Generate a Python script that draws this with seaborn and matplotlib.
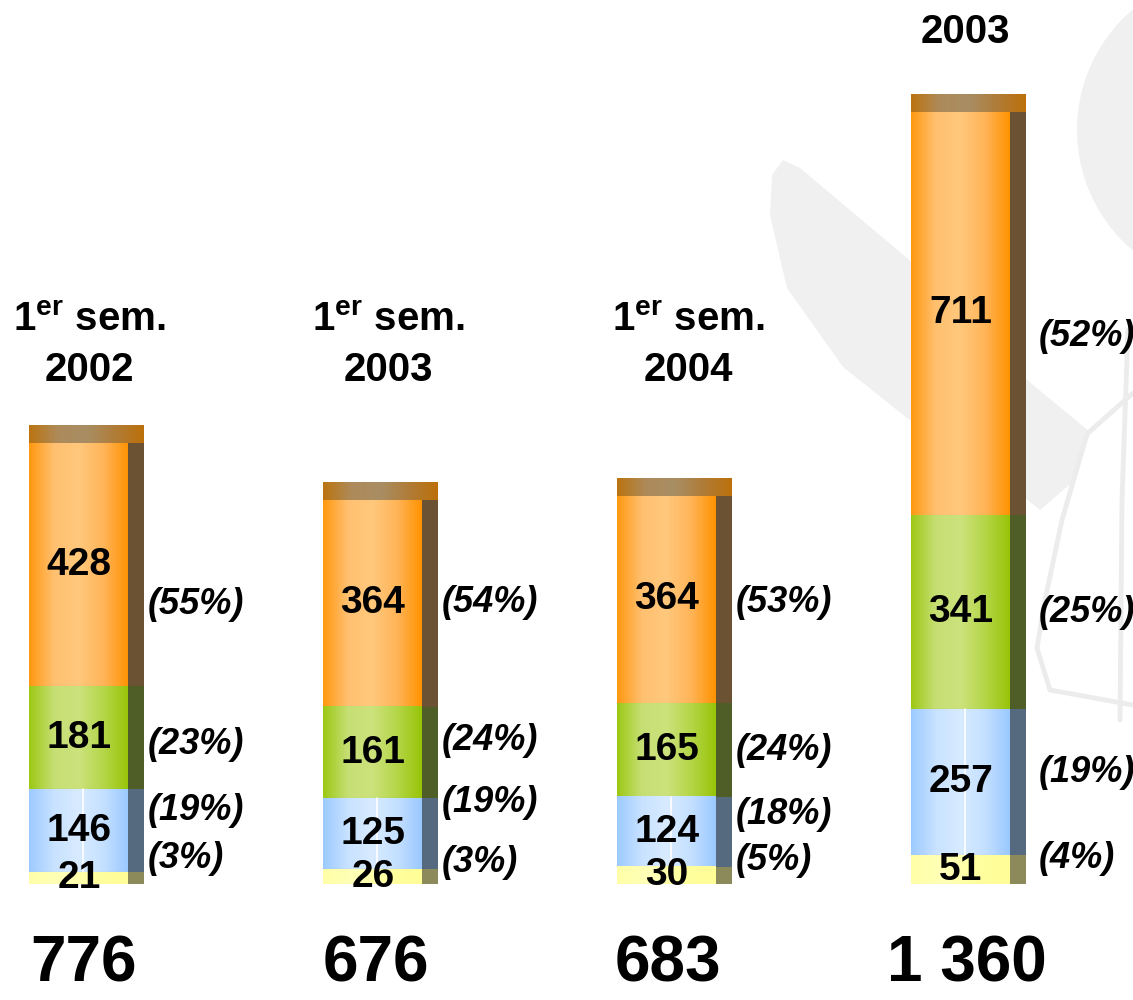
import numpy as np
import pandas as pd
import matplotlib
matplotlib.use("Agg")
import matplotlib.pyplot as plt
import seaborn as sns
from matplotlib.colors import LinearSegmentedColormap
from matplotlib.patches import Rectangle, Circle, Polygon
from matplotlib import font_manager

# ---------------- data ----------------
periods = ["1er sem. 2002", "1er sem. 2003", "1er sem. 2004", "2003"]
header_line1 = [r"1$^{\mathbf{er}}$ sem.", r"1$^{\mathbf{er}}$ sem.", r"1$^{\mathbf{er}}$ sem.", ""]
header_line2 = ["2002", "2003", "2004", "2003"]

seg_yellow = [21, 26, 30, 51]
seg_blue = [146, 125, 124, 257]
seg_green = [181, 161, 165, 341]
seg_orange = [428, 364, 364, 711]

pct_yellow = ["(3%)", "(3%)", "(5%)", "(4%)"]
pct_blue = ["(19%)", "(19%)", "(18%)", "(19%)"]
pct_green = ["(23%)", "(24%)", "(24%)", "(25%)"]
pct_orange = ["(55%)", "(54%)", "(53%)", "(52%)"]

# ---------------- layout (pixels of the 1133x1000 canvas) ----------------
W_PX, H_PX = 1133, 1000
pct_y_px = {  # vertical centres of the percentage labels
    "orange": [605, 603, 603, 336],
    "green": [745, 740, 750, 612],
    "blue": [810, 803, 815, 773],
    "yellow": [858, 862, 860, 858],
}
header_x_px = [89, 388, 688, 965]
header_y1_px = [320, 320, 320, None]
header_y2_px = [370, 370, 370, 32]
total_x_px = [83, 376, 668, 967]
total_y_px = 965

sns.set_theme(style="white")
fams = {f.name for f in font_manager.fontManager.ttflist}
main_font = "Liberation Sans" if "Liberation Sans" in fams else "DejaVu Sans"
narrow_font = "Liberation Sans Narrow" if "Liberation Sans Narrow" in fams else main_font
plt.rcParams["font.family"] = [main_font, "DejaVu Sans"]
plt.rcParams["mathtext.fontset"] = "custom"
plt.rcParams["mathtext.bf"] = f"{main_font}:bold"
plt.rcParams["mathtext.rm"] = f"{main_font}:bold"

fig = plt.figure(figsize=(W_PX / 100, H_PX / 100), dpi=100)
fig.patch.set_facecolor("white")

# background axes in pixel coordinates (faint watermark)
bg = fig.add_axes([0, 0, 1, 1], zorder=0)
bg.set_xlim(0, W_PX)
bg.set_ylim(H_PX, 0)
bg.axis("off")
wm = "#f0f0f0"
bg.add_patch(Polygon([(772, 175), (783, 160), (800, 168), (907, 258), (1027, 380),
                      (1090, 432), (1075, 480), (1040, 510), (990, 470), (907, 418),
                      (843, 367), (787, 288), (770, 215)], closed=True, color=wm, lw=0))
bg.add_patch(Circle((1235, 130), 158, color=wm, lw=0))
bg.plot([1133, 1087, 1062, 1045, 1037, 1050, 1133], [393, 434, 520, 600, 648, 690, 705],
        color="#ececec", lw=3.5, solid_capstyle="round", solid_joinstyle="round")
bg.plot([1128, 1122, 1120], [330, 500, 720], color="#ececec", lw=3.5, solid_capstyle="round")

# main axes
ax = fig.add_axes([0, 0, 1, 1], zorder=1)
ax.patch.set_alpha(0)

px_per_unit = 0.568
y_base_px = 884
ymin = -(H_PX - y_base_px) / px_per_unit
ymax = y_base_px / px_per_unit
spacing_px = 294
face_px = 99
bar_w = face_px / spacing_px
x0_center_px = 78
xmin = -x0_center_px / spacing_px
xmax = (W_PX - x0_center_px) / spacing_px
side_w = 16 / spacing_px
cap_h = 18 / px_per_unit


def px_to_x(px):
    return (px - x0_center_px) / spacing_px


def py_to_y(py):
    return (y_base_px - py) / px_per_unit


layers = [
    ("yellow", seg_yellow, "#ffffa0", ["#ffffa8", "#ffffb8", "#ffffa0", "#fffd96"], "#8c8a5a"),
    ("blue", seg_blue, "#a8d0ff", ["#9ccaff", "#c8e2ff", "#d8ebff", "#c4e0ff", "#9ac8ff"], "#55697f"),
    ("green", seg_green, "#b8d850", ["#9cc814", "#c6df74", "#cce27c", "#b4d648", "#98c408"], "#4f5e27"),
    ("orange", seg_orange, "#ffb050", ["#ff9810", "#ffc070", "#ffc87c", "#ffb458", "#ff9200"], "#6b5233"),
]

vals = np.array([l[1] for l in layers], dtype=float)  # rows: bottom->top
cum_top = np.cumsum(vals, axis=0)
cum_bot = cum_top - vals
totals = cum_top[-1]

df = pd.DataFrame({"period": periods})

# draw top layer first (cumulative heights), lower layers over it
for k in range(len(layers) - 1, -1, -1):
    name, seg, flat, grad, side = layers[k]
    z = 2 + (len(layers) - k) * 0.1
    df["h"] = cum_top[k]
    n0 = len(ax.patches)
    sns.barplot(data=df, x="period", y="h", color=flat, width=bar_w, ax=ax,
                linewidth=0, saturation=1, zorder=z)
    cmap = LinearSegmentedColormap.from_list(name, grad)
    g = cmap(np.linspace(0, 1, 256))[None, :, :]
    for i, p in enumerate(ax.patches[n0:]):
        x0 = p.get_x()
        w = p.get_width()
        ax.imshow(g, extent=[x0, x0 + w, cum_bot[k][i], cum_top[k][i]], aspect="auto",
                  zorder=z + 0.01, interpolation="bilinear")
        if name == "blue":
            ax.plot([x0 + 0.55 * w] * 2, [cum_bot[k][i], cum_top[k][i]], color="white", lw=1.2,
                    zorder=z + 0.02)
        ax.add_patch(Rectangle((x0 + w, cum_bot[k][i]), side_w, vals[k][i], color=side, lw=0,
                               zorder=z + 0.02))
        if k > 0:
            ax.plot([x0, x0 + w], [cum_bot[k][i]] * 2, color="#7f8c80", lw=0.8, alpha=0.5,
                    zorder=z + 0.03)

# caps
cap_cmap = LinearSegmentedColormap.from_list("cap", ["#bb7410", "#ae8a5a", "#a88e64", "#b07c38", "#bc700a"])
capg = cap_cmap(np.linspace(0, 1, 256))[None, :, :]
for i in range(len(periods)):
    x0 = i - bar_w / 2
    ax.imshow(capg, extent=[x0 + 0.003, x0 + bar_w + side_w, totals[i], totals[i] + cap_h],
              aspect="auto", zorder=3, interpolation="bilinear")

ax.set_xlim(xmin, xmax)
ax.set_ylim(ymin, ymax)
ax.axis("off")

# value labels inside segments
for k, (name, seg, *_rest) in enumerate(layers):
    for i in range(len(periods)):
        ax.text(i + 1 / spacing_px, (cum_bot[k][i] + cum_top[k][i]) / 2, f"{seg[i]}",
                ha="center", va="center", fontsize=28, fontweight="bold", color="black", zorder=5)

# percentage labels
pct_map = {"yellow": pct_yellow, "blue": pct_blue, "green": pct_green, "orange": pct_orange}
for name, labels in pct_map.items():
    for i in range(len(periods)):
        x = i + bar_w / 2 + (20 if i < 3 else 29) / spacing_px
        ax.text(x, py_to_y(pct_y_px[name][i]), labels[i], ha="left", va="center",
                fontsize=26, fontweight="bold", fontstyle="italic", color="black", zorder=5)

# headers
for i in range(len(periods)):
    if header_line1[i]:
        ax.text(px_to_x(header_x_px[i]), py_to_y(header_y1_px[i]), header_line1[i], ha="center",
                va="center", fontsize=29, fontweight="bold", color="black")
    ax.text(px_to_x(header_x_px[i]), py_to_y(header_y2_px[i]), header_line2[i], ha="center",
            va="center", fontsize=29, fontweight="bold", color="black")

# totals
for i in range(len(periods)):
    t = int(round(totals[i]))
    s = f"{t:,}".replace(",", " ")
    ax.text(px_to_x(total_x_px[i]), py_to_y(total_y_px), s, ha="center", va="center",
            fontsize=53 if narrow_font != main_font else 46, fontweight="bold",
            family=[narrow_font, "DejaVu Sans"], color="black")

fig.savefig("out.png", dpi=100, facecolor="white")
